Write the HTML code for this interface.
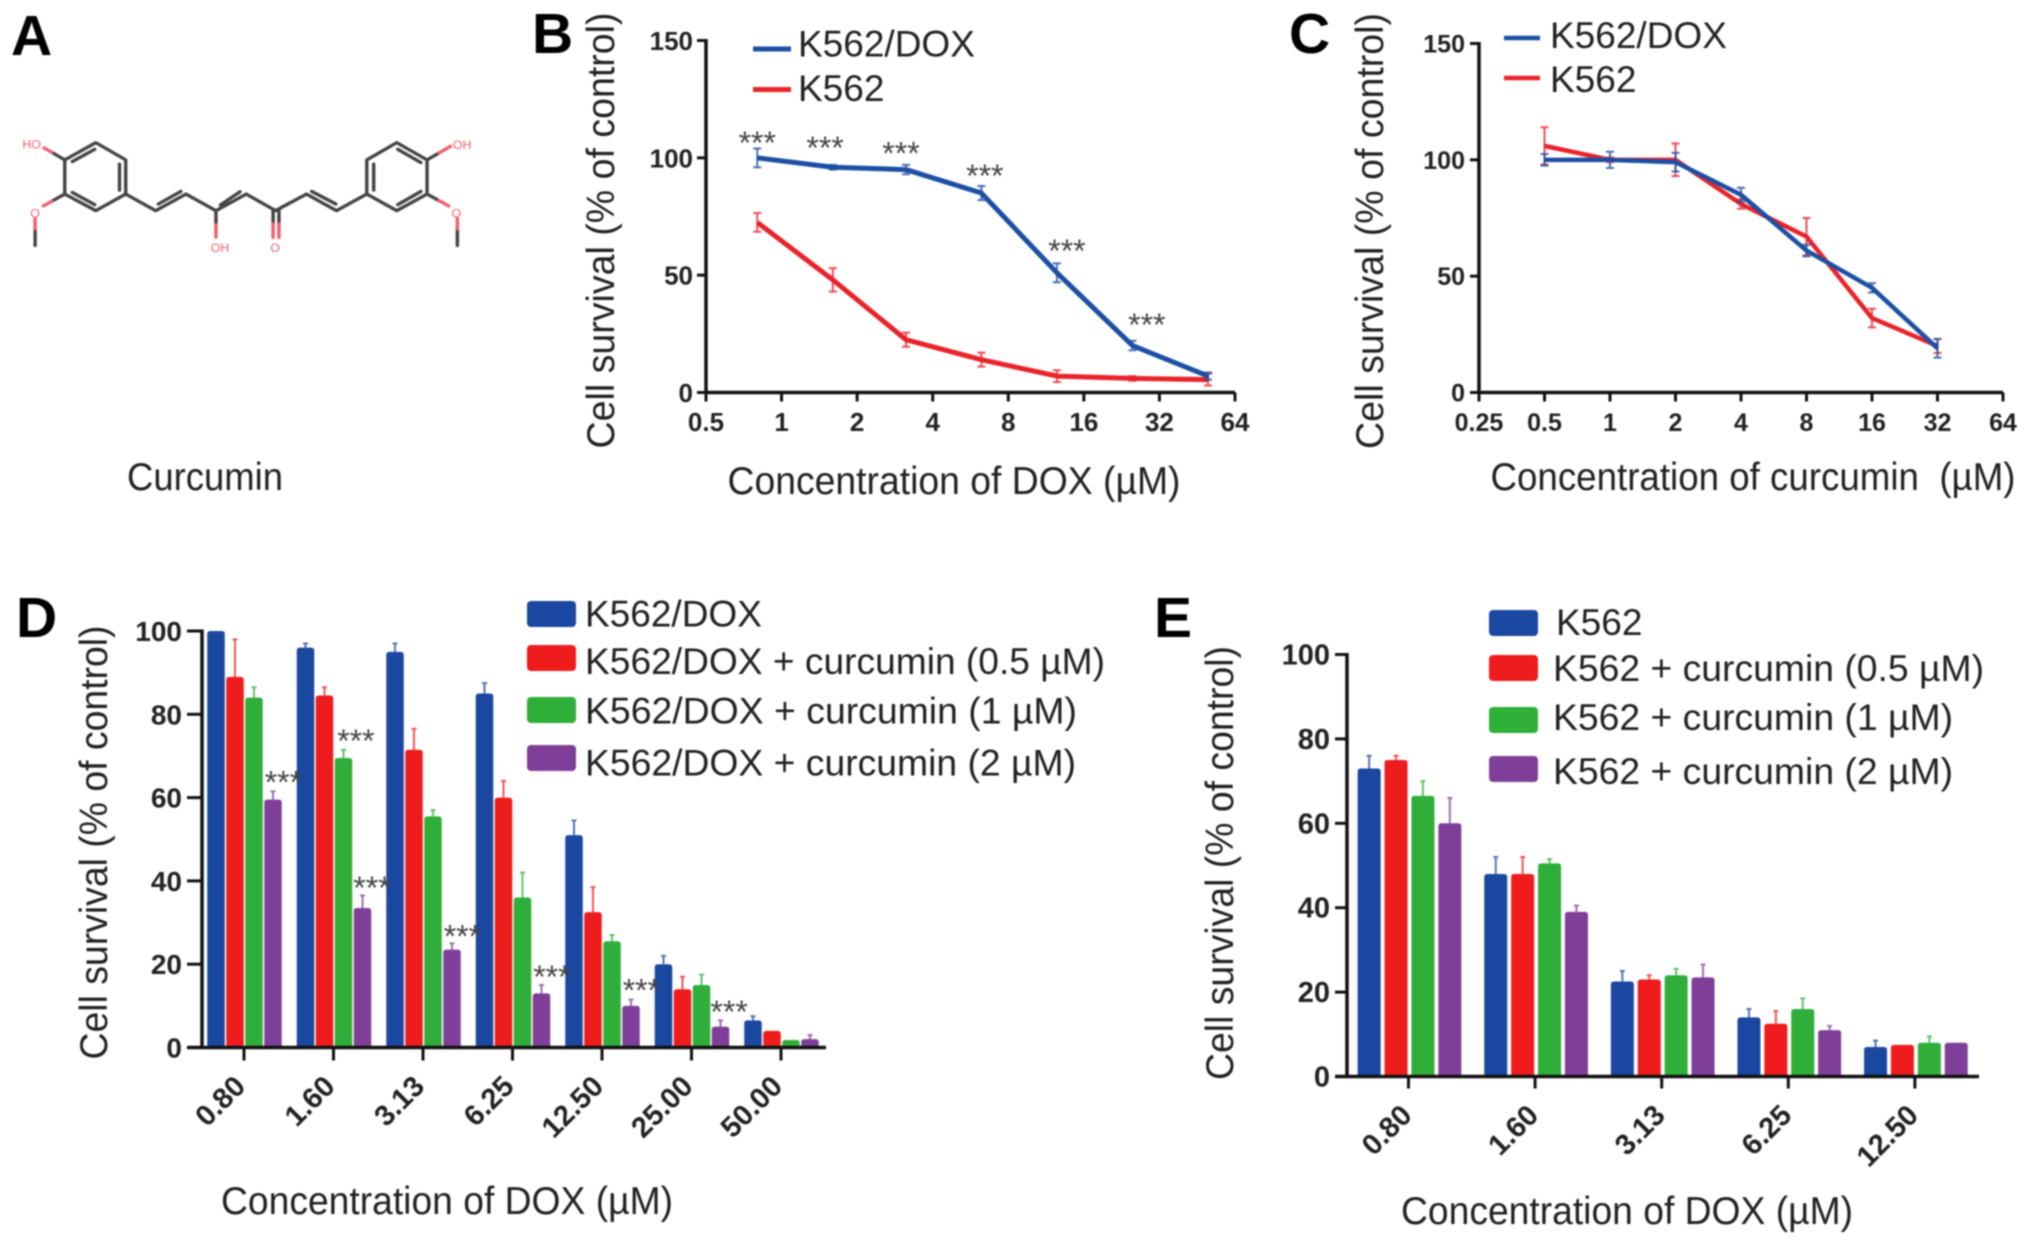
<!DOCTYPE html>
<html lang="en">
<head>
<meta charset="utf-8">
<title>Curcumin and DOX cell survival figure</title>
<style>
html,body{margin:0;padding:0;background:#fff;width:2031px;height:1244px;overflow:hidden}
svg{display:block;filter:blur(.7px)}
text{font-family:"Liberation Sans",Arial,sans-serif;fill:#1c1c1c}
.panel{font-weight:bold;font-size:57px;fill:#000}
.title{font-size:38.5px;fill:#222}
.leg{font-size:37px;fill:#222}
.tick{font-size:26px;font-weight:bold;fill:#222}
.star{font-size:32px;fill:#444}
.mol{fill:none;stroke:#454545;stroke-width:10;stroke-linecap:round;stroke-linejoin:round}
.molr{fill:none;stroke:#f0606e;stroke-width:10;stroke-linecap:round}
.molt{font-size:36px;fill:#f0606e}
</style>
</head>
<body>
<svg id="fig" xmlns="http://www.w3.org/2000/svg" width="2031" height="1244" viewBox="0 0 2031 1244">
  <text class="panel" x="11" y="55">A</text>
  <text class="panel" x="532" y="53">B</text>
  <text class="panel" x="1289" y="53">C</text>
  <text class="panel" x="16" y="637">D</text>
  <text class="panel" x="1154" y="637">E</text>

  <g id="molecule" transform="scale(.3444,.3317)">
    <path class="mol" d="M278 430L365 482V585L278 635L188 585V482Z M210 487L275 450 M347 495V573 M210 580L275 617"/>
    <path class="mol" d="M365 585L452 635L540 585L627 635L715 585L800 635L890 585L977 635L1065 585 M460 615L525 577 M640 618L697 578 M905 577L975 615"/>
    <path class="mol" d="M1065 585V482L1152 430L1240 482V585L1152 635Z M1085 495V573 M1155 450L1222 490 M1155 617L1222 577"/>
    <path class="mol" d="M188 482L150 459 M188 585L150 607 M102 690V740 M627 635V678 M793 635V675 M810 635V675 M1240 482L1275 461 M1240 585L1275 605 M1328 690V740"/>
    <path class="molr" d="M150 459L128 446 M150 607L126 621 M102 660V690 M627 678V715 M793 675V716 M810 675V716 M1275 461L1308 441 M1275 605L1303 621 M1328 660V690"/>
    <text class="molt" x="65" y="448">HO</text>
    <text class="molt" x="88" y="656">O</text>
    <text class="molt" x="612" y="760">OH</text>
    <text class="molt" x="785" y="760">O</text>
    <text class="molt" x="1315" y="449">OH</text>
    <text class="molt" x="1311" y="656">O</text>
  </g>
  <text class="title" x="205" y="490" text-anchor="middle" textLength="156" lengthAdjust="spacingAndGlyphs">Curcumin</text>

  <g id="panel-b">
    <text class="title" transform="translate(614 230.5) rotate(-90)" text-anchor="middle" textLength="436" lengthAdjust="spacingAndGlyphs">Cell survival (% of control)</text>
    <text class="title" x="954" y="494" text-anchor="middle" textLength="453" lengthAdjust="spacingAndGlyphs">Concentration of DOX (µM)</text>
    <line x1="753" x2="791" y1="49" y2="49" stroke="#1c4fa3" stroke-width="5"/>
    <text class="leg" x="798" y="56.5">K562/DOX</text>
    <line x1="753" x2="791" y1="89.5" y2="89.5" stroke="#e8232a" stroke-width="5"/>
    <text class="leg" x="798" y="101">K562</text>
  </g>

  <g id="panel-c">
    <text class="title" transform="translate(1383 231) rotate(-90)" text-anchor="middle" textLength="436" lengthAdjust="spacingAndGlyphs">Cell survival (% of control)</text>
    <text class="title" x="1753" y="490" text-anchor="middle" textLength="525" lengthAdjust="spacingAndGlyphs" xml:space="preserve">Concentration of curcumin  (µM)</text>
    <line x1="1504" x2="1540" y1="38" y2="38" stroke="#1c4fa3" stroke-width="4.5"/>
    <text class="leg" x="1550" y="48">K562/DOX</text>
    <line x1="1504" x2="1540" y1="78" y2="78" stroke="#e8232a" stroke-width="4.5"/>
    <text class="leg" x="1550" y="92">K562</text>
  </g>

  <g id="panel-d">
    <text class="title" transform="translate(107 842.5) rotate(-90)" text-anchor="middle" textLength="434" lengthAdjust="spacingAndGlyphs">Cell survival (% of control)</text>
    <text class="title" x="447" y="1214" text-anchor="middle" textLength="452" lengthAdjust="spacingAndGlyphs">Concentration of DOX (µM)</text>
    <rect x="527" y="601" width="49" height="26" rx="4" fill="#1a479f"/>
    <text class="leg" x="585" y="626.5">K562/DOX</text>
    <rect x="527" y="645" width="49" height="26" rx="4" fill="#ee1c1c"/>
    <text class="leg" x="585" y="674" textLength="520" lengthAdjust="spacingAndGlyphs">K562/DOX + curcumin (0.5 µM)</text>
    <rect x="527" y="697" width="49" height="26" rx="4" fill="#2fae3a"/>
    <text class="leg" x="585" y="723.5" textLength="492" lengthAdjust="spacingAndGlyphs">K562/DOX + curcumin (1 µM)</text>
    <rect x="527" y="745" width="49" height="26" rx="4" fill="#7f3f98"/>
    <text class="leg" x="585" y="775.5" textLength="491" lengthAdjust="spacingAndGlyphs">K562/DOX + curcumin (2 µM)</text>
  </g>

  <g id="panel-e">
    <text class="title" transform="translate(1233 863) rotate(-90)" text-anchor="middle" textLength="434" lengthAdjust="spacingAndGlyphs">Cell survival (% of control)</text>
    <text class="title" x="1627" y="1224" text-anchor="middle" textLength="452" lengthAdjust="spacingAndGlyphs">Concentration of DOX (µM)</text>
    <rect x="1489" y="610" width="49" height="26" rx="4" fill="#1a479f"/>
    <text class="leg" x="1556" y="635">K562</text>
    <rect x="1489" y="655" width="49" height="26" rx="4" fill="#ee1c1c"/>
    <text class="leg" x="1553" y="681" textLength="431" lengthAdjust="spacingAndGlyphs">K562 + curcumin (0.5 µM)</text>
    <rect x="1489" y="707" width="49" height="26" rx="4" fill="#2fae3a"/>
    <text class="leg" x="1553" y="730" textLength="400" lengthAdjust="spacingAndGlyphs">K562 + curcumin (1 µM)</text>
    <rect x="1489" y="756" width="49" height="26" rx="4" fill="#7f3f98"/>
    <text class="leg" x="1553" y="784" textLength="400" lengthAdjust="spacingAndGlyphs">K562 + curcumin (2 µM)</text>
  </g>
</svg>
<script>
// Panel B data
const bDoses = [0.8, 1.6, 3.13, 6.25, 12.5, 25, 50];
const bResistant = [100, 96, 95, 85, 51, 20, 7];
const bResistantErr = [4, 1, 2, 3, 4, 2, 1.5];
const bParental = [72.5, 48, 22.5, 14, 7, 6, 5.5];
const bParentalErr = [4, 5, 3, 3, 2.5, 1, 2.5];
const bXTicks = ['0.5', '1', '2', '4', '8', '16', '32', '64'];
const bYTicks = ['0', '50', '100', '150'];
const bStarDoses = [0.8, 1.49, 2.99, 6.45, 13.7, 28.5];
const bStarValues = [108, 106, 103.5, 94, 62, 30.4];

// Panel C data
const cDoses = [0.5, 1, 2, 4, 8, 16, 32];
const cResistant = [100, 100, 99, 85, 61, 45, 19];
const cResistantErr = [2.5, 3.5, 4, 3, 2.5, 2, 4];
const cParental = [106, 100, 100, 81, 67, 32, 20];
const cParentalErr = [8, 1, 7, 2, 8, 4, 3];
const cXTicks = ['0.25', '0.5', '1', '2', '4', '8', '16', '32', '64'];
const cYTicks = ['0', '50', '100', '150'];

// Panel D data
const dCategories = ['0.80', '1.60', '3.13', '6.25', '12.50', '25.00', '50.00'];
const dDox = [100, 96, 95, 85, 51, 20, 6.5];
const dCur05 = [89, 84.5, 71.5, 60, 32.5, 14, 4];
const dCur1 = [84, 69.5, 55.5, 36, 25.5, 15, 1.8];
const dCur2 = [59.5, 33.5, 23.5, 13, 10, 5, 2];
const dDoxErr = [0, 1, 2, 2.5, 3.5, 2, 1];
const dCur05Err = [9, 2, 5, 4, 6, 3, 0];
const dCur1Err = [2.5, 2, 1.5, 6, 1.5, 2.5, 0];
const dCur2Err = [2, 3, 1.5, 2, 1.5, 1.5, 1];
const dYTicks = ['0', '20', '40', '60', '80', '100'];
const dStarGroups = [0.44, 1.25, 1.43, 2.44, 3.44, 4.44, 5.42];
const dStarValues = [64.6, 74.6, 39.2, 27.6, 17.9, 14.6, 9.5];

// Panel E data
const eCategories = ['0.80', '1.60', '3.13', '6.25', '12.50'];
const eK562 = [73, 48, 22.5, 14, 7];
const eCur05 = [75, 48, 23, 12.5, 7.5];
const eCur1 = [66.5, 50.5, 24, 16, 8];
const eCur2 = [60, 39, 23.5, 11, 8];
const eK562Err = [3, 4, 2.5, 2, 1.5];
const eCur05Err = [1, 4, 1, 3, 0];
const eCur1Err = [3.5, 1, 1.5, 2.5, 1.5];
const eCur2Err = [6, 1.5, 3, 1, 0];
const eYTicks = ['0', '20', '40', '60', '80', '100'];

const SVG_NS = 'http://www.w3.org/2000/svg';
const BLUE = '#1c4fa3', RED = '#e8232a', GREEN = '#2fae3a', PURPLE = '#7f3f98', BARBLUE = '#1a479f', BARRED = '#ee1c1c';

function mk(parent, tag, attrs, txt) {
  const el = document.createElementNS(SVG_NS, tag);
  for (const k in attrs) el.setAttribute(k, attrs[k]);
  if (txt !== undefined) el.textContent = txt;
  parent.appendChild(el);
  return el;
}

function yAxis(g, cfg, labels, yScale) {
  const ax = mk(g, 'line', {x1: cfg.x0, x2: cfg.x0, y1: yScale(Number(labels[labels.length - 1])) - 1.5, y2: yScale(0) + 1.5, stroke: '#111', 'stroke-width': cfg.axisW});
  
  
  labels.forEach(function (lab) {
    const y = yScale(Number(lab));
    const tk = mk(g, 'line', {x1: cfg.x0 - cfg.yTickLen, x2: cfg.x0, y1: y, y2: y, stroke: '#111', 'stroke-width': 3});
    
    
    const t = mk(g, 'text', {class: 'tick', x: cfg.x0 - cfg.yLabelGap, y: y + cfg.yLabelDy, 'text-anchor': 'end', style: 'font-size:' + cfg.tickFont + 'px'}, lab);
    
    
  });
}

function lineSeries(g, doses, vals, errs, color, xScale, yScale, width, name) {
  const pts = doses.map(function (d, i) { return xScale(d) + ',' + yScale(vals[i]); }).join(' ');
  doses.forEach(function (d, i) {
    const x = xScale(d), hi = yScale(vals[i] + errs[i]), lo = yScale(vals[i] - errs[i]);
    const bar = mk(g, 'path', {d: 'M' + (x - 4) + ' ' + hi + 'H' + (x + 4) + 'M' + x + ' ' + hi + 'V' + lo + 'M' + (x - 4) + ' ' + lo + 'H' + (x + 4), fill: 'none', stroke: color, 'stroke-width': 2, opacity: .8});
    
    
  });
  const line = mk(g, 'polyline', {points: pts, fill: 'none', stroke: color, 'stroke-width': width, 'stroke-linejoin': 'round'});
  
  
}

function linePanel(id, cfg, xLabels, yLabels, series) {
  const g = document.getElementById(id);
  const lo = Number(xLabels[0]), hi = Number(xLabels[xLabels.length - 1]);
  const xScale = function (d) { return cfg.x0 + (Math.log2(d) - Math.log2(lo)) / (Math.log2(hi) - Math.log2(lo)) * (cfg.x1 - cfg.x0); };
  const top = Number(yLabels[yLabels.length - 1]);
  const yScale = function (v) { return cfg.y0 + (cfg.yTop - cfg.y0) * v / top; };
  series.forEach(function (s) { lineSeries(g, s.doses, s.vals, s.errs, s.color, xScale, yScale, cfg.lineW, s.name); });
  yAxis(g, cfg, yLabels, yScale);
  const xa = mk(g, 'line', {x1: cfg.x0, x2: cfg.x1, y1: cfg.y0, y2: cfg.y0, stroke: '#111', 'stroke-width': cfg.axisW});
  
  
  xLabels.forEach(function (lab) {
    const x = xScale(Number(lab));
    const tk = mk(g, 'line', {x1: x, x2: x, y1: cfg.y0, y2: cfg.y0 + 9, stroke: '#111', 'stroke-width': 3});
    
    
    const t = mk(g, 'text', {class: 'tick', x: x, y: cfg.xLabelY, 'text-anchor': 'middle', style: 'font-size:' + cfg.tickFont + 'px'}, lab);
    
    
  });
  return {xScale: xScale, yScale: yScale, g: g};
}

function barPanel(id, cfg, cats, yLabels, series) {
  const g = document.getElementById(id);
  const gx = function (i) { return cfg.firstTick + cfg.groupStep * i; };
  const top = Number(yLabels[yLabels.length - 1]);
  const yScale = function (v) { return cfg.y0 + (cfg.yTop - cfg.y0) * v / top; };
  series.forEach(function (s, si) {
    cats.forEach(function (c, i) {
      const x = gx(i) + cfg.offset + (si - 1.5) * cfg.pitch;
      const yv = yScale(s.vals[i]);
      if (s.errs[i] > 0) {
        const yh = yScale(s.vals[i] + s.errs[i]);
        const err = mk(g, 'path', {d: 'M' + x + ' ' + yv + 'V' + yh + 'M' + (x - 2.5) + ' ' + yh + 'H' + (x + 2.5), stroke: s.color, 'stroke-width': 2, fill: 'none', opacity: .75});
        
        
      }
      const w = cfg.barW, r = Math.min(3, (cfg.y0 - yv) / 2);
      const b = mk(g, 'path', {d: 'M' + (x - w / 2) + ' ' + cfg.y0 + 'V' + (yv + r) + 'Q' + (x - w / 2) + ' ' + yv + ' ' + (x - w / 2 + r) + ' ' + yv + 'H' + (x + w / 2 - r) + 'Q' + (x + w / 2) + ' ' + yv + ' ' + (x + w / 2) + ' ' + (yv + r) + 'V' + cfg.y0 + 'Z', fill: s.color});
      
      
    });
  });
  yAxis(g, cfg, yLabels, yScale);
  const xa = mk(g, 'line', {x1: cfg.x0 - cfg.yTickLen, x2: cfg.x1, y1: cfg.y0, y2: cfg.y0, stroke: '#111', 'stroke-width': cfg.axisW});
  
  
  cats.forEach(function (c, i) {
    const x = gx(i);
    const tk = mk(g, 'line', {x1: x, x2: x, y1: cfg.y0, y2: cfg.y0 + cfg.xTickLen, stroke: '#111', 'stroke-width': 3});
    
    
    const lx = x + cfg.labelDx, ly = cfg.labelY;
    const t = mk(g, 'text', {class: 'tick', x: lx, y: ly, 'text-anchor': 'end', transform: 'rotate(-45 ' + lx + ' ' + ly + ')', style: 'font-size:' + cfg.labelFont + 'px'}, c);
    
    
  });
  return {gx: gx, yScale: yScale, g: g};
}

function star(g, x, y) {
  const t = mk(g, 'text', {class: 'star', x: x, y: y + 15, 'text-anchor': 'middle'}, '***');
  
  
}

const pb = linePanel('panel-b',
  {x0: 706, x1: 1235, y0: 392.5, yTop: 40.5, axisW: 3.5, lineW: 5, yTickLen: 9, yLabelGap: 13, yLabelDy: 9.5, tickFont: 26, xLabelY: 431},
  bXTicks, bYTicks, [
    {doses: bDoses, vals: bParental, errs: bParentalErr, color: RED, name: 'k562'},
    {doses: bDoses, vals: bResistant, errs: bResistantErr, color: BLUE, name: 'k562-dox'}
  ]);
bStarDoses.forEach(function (d, i) { star(pb.g, pb.xScale(d), pb.yScale(bStarValues[i])); });

linePanel('panel-c',
  {x0: 1479, x1: 2003, y0: 392.5, yTop: 43.5, axisW: 3.5, lineW: 4.5, yTickLen: 9, yLabelGap: 14, yLabelDy: 9, tickFont: 25, xLabelY: 431},
  cXTicks, cYTicks, [
    {doses: cDoses, vals: cParental, errs: cParentalErr, color: RED, name: 'k562'},
    {doses: cDoses, vals: cResistant, errs: cResistantErr, color: BLUE, name: 'k562-dox'}
  ]);

const pd = barPanel('panel-d',
  {x0: 202, x1: 826, y0: 1047.5, yTop: 631, axisW: 3.5, yTickLen: 15, yLabelGap: 20, yLabelDy: 10, tickFont: 28, labelFont: 29, firstTick: 244, groupStep: 89.5, offset: 0.5, pitch: 19, barW: 17.5, xTickLen: 13, labelDx: 3, labelY: 1088},
  dCategories, dYTicks, [
    {vals: dDox, errs: dDoxErr, color: BARBLUE, name: 'k562-dox'},
    {vals: dCur05, errs: dCur05Err, color: BARRED, name: 'curcumin-0-5'},
    {vals: dCur1, errs: dCur1Err, color: GREEN, name: 'curcumin-1'},
    {vals: dCur2, errs: dCur2Err, color: PURPLE, name: 'curcumin-2'}
  ]);
dStarGroups.forEach(function (gi, i) { star(pd.g, pd.gx(gi), pd.yScale(dStarValues[i])); });

barPanel('panel-e',
  {x0: 1347, x1: 1979, y0: 1076.5, yTop: 654.5, axisW: 3.5, yTickLen: 12, yLabelGap: 17, yLabelDy: 10, tickFont: 29, labelFont: 29, firstTick: 1408.5, groupStep: 126.6, offset: 1, pitch: 26.9, barW: 23, xTickLen: 12, labelDx: 5, labelY: 1117},
  eCategories, eYTicks, [
    {vals: eK562, errs: eK562Err, color: BARBLUE, name: 'k562'},
    {vals: eCur05, errs: eCur05Err, color: BARRED, name: 'curcumin-0-5'},
    {vals: eCur1, errs: eCur1Err, color: GREEN, name: 'curcumin-1'},
    {vals: eCur2, errs: eCur2Err, color: PURPLE, name: 'curcumin-2'}
  ]);
</script>
</body>
</html>
